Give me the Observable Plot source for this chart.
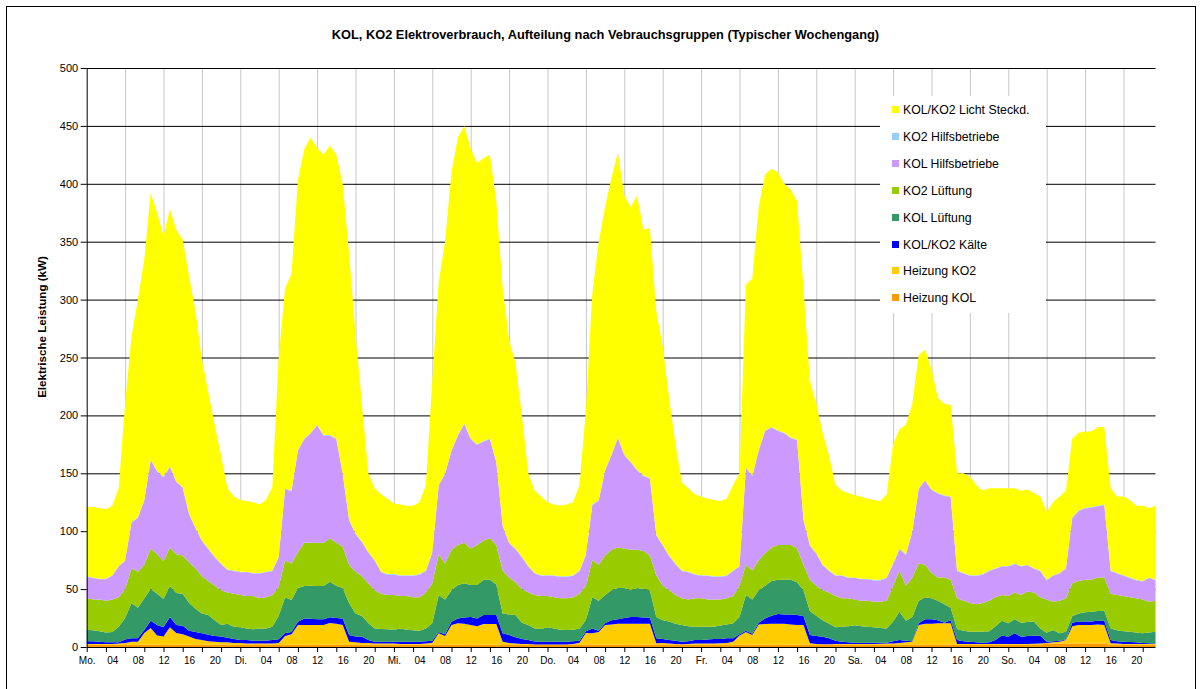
<!DOCTYPE html>
<html>
<head>
<meta charset="utf-8">
<script src="https://cdn.jsdelivr.net/npm/d3@7"></script>
<script src="https://cdn.jsdelivr.net/npm/@observablehq/plot@0.6"></script>
<style>
  html, body { margin: 0; padding: 0; background: #fff; }
  #wrap { position: relative; width: 1204px; height: 689px; overflow: hidden; font-family: "Liberation Sans", Arial, sans-serif; }
  #frame { position: absolute; left: 6px; top: 6px; width: 1190px; height: 700px; border: 1px solid #000; box-sizing: border-box; }
  #chart { position: absolute; left: 0; top: 0; }
  #title { position: absolute; left: 0; width: 1211px; top: 27px; text-align: center; font-weight: bold; font-size: 12.8px; color: #000; }
  #ylabel { position: absolute; left: 41px; top: 327px; transform: translate(-50%, -50%) rotate(-90deg); white-space: nowrap; font-weight: bold; font-size: 11.6px; color: #000; }
  #legend { position: absolute; left: 880px; top: 96px; width: 166px; height: 217px; background: #fff; }
  .li { position: absolute; left: 12px; height: 14px; font-size: 12.3px; line-height: 14px; color: #000; white-space: nowrap; }
  .sw { display: inline-block; width: 7px; height: 7px; margin-right: 4px; vertical-align: 1px; }
</style>
</head>
<body>
<div id="wrap">
  <div id="frame"></div>
  <div id="chart"></div>
  <div id="title">KOL, KO2 Elektroverbrauch, Aufteilung nach Vebrauchsgruppen (Typischer Wochengang)</div>
  <div id="ylabel">Elektrische Leistung (kW)</div>
  <div id="legend"></div>
</div>
<script>
// Tick labels
const dayLabels = ["Mo.", "Di.", "Mi.", "Do.", "Fr.", "Sa.", "So."];
const hourLabels = ["04", "08", "12", "16", "20"];
const yTicks = [0, 50, 100, 150, 200, 250, 300, 350, 400, 450, 500];

// Series names (stack order bottom -> top) and colours
const seriesNames = ["Heizung KOL", "Heizung KO2", "KOL/KO2 Kälte", "KOL Lüftung", "KO2 Lüftung", "KOL Hilfsbetriebe", "KO2 Hilfsbetriebe", "KOL/KO2 Licht Steckd."];
const seriesColors = ["#FF9900", "#FFCC00", "#0000FF", "#339966", "#99CC00", "#CC99FF", "#99CCFF", "#FFFF00"];

// Hourly values (kW), Monday 00h .. Sunday 23h
const heizungKOL = [
  2,2,2,2,2,2,2,2,2,2,2,2,2,2,2,2,2,2,2,2,2,2,2,2,
  2,2,2,2,2,2,2,2,2,2,2,2,2,2,2,2,2,2,2,2,2,2,2,2,
  2,2,2,2,2,2,2,2,2,2,2,2,2,2,2,2,2,2,2,2,2,2,2,2,
  2,2,2,2,2,2,2,2,2,2,2,2,2,2,2,2,2,2,2,2,2,2,2,2,
  2,2,2,2,2,2,2,2,2,2,2,2,2,2,2,2,2,2,2,2,2,2,2,2,
  2,2,2,2,2,2,2,2,2,2,2,2,2,2,2,2,2,2,2,2,2,2,2,2,
  2,2,2,2,2,2,3,3,3,3,3,3,3,3,3,3,2,2,2,2,2,2,2,2
];
const heizungKO2 = [
  .5,.5,.5,.5,.5,1,1.5,2.5,2.5,10,14.4,8,7,15,10,9,7,5,4,3,2.5,2,2,1.5,
  1.5,1,1,1,1,1,1.5,7.5,9,17,17,17,17,17,18.7,18,17,2.6,2,1.5,1.4,1,1,1,
  1,.5,.5,.5,.5,1,1.7,9.8,7.5,17,18.5,18,17,16,17.9,17.9,17.9,2.6,1.5,1,.5,.5,.2,.2,
  .2,.2,.2,.2,.5,1.7,10,9.8,11,17,17.5,18,18,18,18,18,18,1.2,1.5,1,.5,.4,.5,1,
  1,1,1,1.2,1.5,2.6,8,11,8.4,17.5,17.9,18,18,18,17.5,17,17,1.2,.5,.4,.4,.5,.5,.6,
  .6,.6,.6,.6,.8,1,1,1.5,2,2.6,17,18,18,18.5,18.5,18.5,.6,.5,.5,.5,.5,.5,.5,.5,
  .5,.5,.5,.5,.8,1,.5,1,1.6,3,15,16,16,16,16.5,16,1.2,1,.5,.5,.5,.5,.5,.5
];
const kaelte = [
  2.5,2.5,2,1.5,1.5,1,3,3,3,2.7,6.3,9,8,9,7,7.4,5,6,5.8,5.5,5,5,4,3.5,
  2.5,3,2.5,2.4,2.5,3,3.1,2.5,2,2.8,5.7,5.5,5,5,4.9,5,5.7,5.8,5,5.4,2.6,1.6,1.6,1.5,
  1.6,2.1,2,2,2,2,1.7,1.2,1.5,2.8,4.2,5.5,7,6.7,7.7,7.7,7.7,7.2,6.9,5.5,4.5,3.5,2.6,2.4,
  2.4,2.4,2.4,2.4,2.5,1.7,1.5,4.2,1,1.5,3.5,4,5,6,6,5.5,5.5,4.3,3.5,3,2.9,2.1,2.5,3,
  3,3.5,4,3.8,4,2.9,1,1,1,1.5,4.8,7,8.5,8,8.5,8.6,7.8,7.2,7,6.5,5.1,2.9,2,1.4,
  1.1,1.1,1.1,1.1,.9,.7,2,2.5,1.5,.4,1.5,4,4,2.5,.5,2.5,3.4,2.5,2.1,1.5,1.2,1.5,3.5,7.5,
  6.4,9.3,6.4,7,7,6.8,1,1,.9,.5,3,3,3,3,3.2,3.7,2.8,2,2.1,1.8,1.5,1,.7,.5
];
const kolLueftung = [
  10,9.5,9,8.5,9,13.5,18.5,30.5,26.5,27.3,27.3,27,24.5,26.7,27.6,27.6,24,20,17.2,17.1,13.5,10,12,10.5,
  11,10,9.8,10.6,10.5,11.5,20.4,31,27.6,29.2,28,28.5,28.7,28.7,30.8,28,26.3,27.6,20,17.9,14.7,11.4,10.9,10.8,
  10.4,11.4,10.5,10,9.5,11,15.1,32,30,27.2,28.8,29.5,27.5,28.8,30.4,30.4,26.4,17.2,17.6,19.1,14,13,11.2,10.9,
  12.4,11.4,10.4,10.1,10,10.6,9.8,27,26,24.5,26,27,26,23,25,24.5,23.5,18.5,16,16,14.6,14.5,13,11.5,
  11.5,11,10.5,11.5,12,13,15,31,29.6,28,28.3,30,29.5,30,30,28.4,22.2,20.6,17.5,14.1,12.5,11.6,13,14,
  15,14.3,13.8,13.3,12.8,12.3,17,24.5,17.2,21,19.5,19,18,17,16,11,9.5,9,8.6,9.2,9.5,9.5,12,12.7,
  11.6,12.2,12.1,12,12.2,6.2,7.9,9.7,6.3,6.7,5.8,7,8,8.5,8.3,8.7,10,9.5,8.9,8.9,8.5,8.3,9.3,10.2
];
const ko2Lueftung = [
  27,26.5,27.5,27.5,28,25.5,25,30,31,29,35,34,32.5,33.3,33.4,33,35,35,32,29.4,30,30,27,28.5,
  28,28,28.7,26,27,27.5,25,32,31.4,31,37.3,37,37.3,37.3,37.6,37,35.6,33,36,34.2,34.3,33,30.5,29.7,
  30,28,29,28.5,29,31,34.5,35,31,35,34.5,35,31.5,34.5,34,36,34,37,32,28.4,29,28,29,28.5,
  27,27,27,27.3,28,30,29.7,32,31,34,35,35,34,35,33,33,30,36,30,27,25,23,23,24.5,
  24.5,23.5,23.5,22.5,22.5,23.5,27,26,25,26,28,29,30,30,30,29,22,27,26,26,27,27,24.5,24,
  22.3,22,22.5,22,22.5,24,31,35.5,30.3,34,32,28,22,20,23,24,26.5,26,24.8,23.8,24.8,26.5,25,22.3,
  23.5,23,24,26.5,25,27,28.6,24.3,28.2,28.8,28.2,28,28,27.5,29,28.6,30,30.5,30.5,29.8,29.5,29.2,26.5,26.8
];
const kolHilfsbetriebe = [
  18.5,18.5,17.5,18.5,20.5,26.5,24.5,39.5,46.5,55.5,76.5,71.5,72.5,69.5,62.5,58.5,41.5,34.5,30.5,27.5,24.5,22.5,19.5,19.5,
  19.5,20.5,19.5,21.5,21.5,20.5,25.5,61.5,62.5,87.5,89.5,94.5,101.5,92.5,88.5,89.5,62.9,38.5,32.5,29.5,26.5,25.5,18.5,17.5,
  17.5,17.5,17.5,18.5,19.5,18.5,26.5,59.5,77.5,85.5,94.5,102.5,94.5,86.5,85.5,85.5,71.5,38.5,29.5,28.5,27.5,22.5,18.5,17.5,
  17.5,18.5,18.5,18.5,18.5,19.5,26.5,47.5,55.5,73.5,81.5,94.5,80.5,75.5,68.5,64.5,66.5,34.5,34.5,29.5,26.5,23.5,23.5,20.5,
  19.5,20.5,19.5,19.5,19.5,21.5,16.5,83.5,81.5,94.5,105.5,103.5,98.5,96.5,92.5,93.5,38.5,29.5,27.5,21.5,18.5,17.5,19.5,17.5,
  18.5,18.5,18.5,18.5,18.5,19.5,18.5,18.5,26.5,39.5,64.5,72.5,71.5,72.5,70.5,71.5,23.5,23.5,23.5,24.5,24.5,25.5,24.5,24.5,
  25.5,24.5,24.5,22.5,20.5,22.5,16.5,22.5,23.5,25.5,56.5,60.5,61.5,62.5,61.5,62.5,19.5,18.5,17.5,16.5,15.5,15.5,20.5,17.5
];
const ko2Hilfsbetriebe = [
  .5,.5,.5,.5,.5,.5,.5,.5,.5,.5,.5,.5,.5,.5,.5,.5,.5,.5,.5,.5,.5,.5,.5,.5,
  .5,.5,.5,.5,.5,.5,.5,.5,.5,.5,.5,.5,.5,.5,.5,.5,.5,.5,.5,.5,.5,.5,.5,.5,
  .5,.5,.5,.5,.5,.5,.5,.5,.5,.5,.5,.5,.5,.5,.5,.5,.5,.5,.5,.5,.5,.5,.5,.5,
  .5,.5,.5,.5,.5,.5,.5,.5,.5,.5,.5,.5,.5,.5,.5,.5,.5,.5,.5,.5,.5,.5,.5,.5,
  .5,.5,.5,.5,.5,.5,.5,.5,.5,.5,.5,.5,.5,.5,.5,.5,.5,.5,.5,.5,.5,.5,.5,.5,
  .5,.5,.5,.5,.5,.5,.5,.5,.5,.5,.5,.5,.5,.5,.5,.5,.5,.5,.5,.5,.5,.5,.5,.5,
  .5,.5,.5,.5,.5,.5,.5,.5,.5,.5,.5,.5,.5,.5,.5,.5,.5,.5,.5,.5,.5,.5,.5,.5
];
const lichtSteckdosen = [
  60,61,61,60,60,67,135,160,188,208,230,223,208,222,217,214,205,187,156,135,114,93,70,64,
  62,61,61,59,62,72,172,173,187,233,250,255,239,242,250,245,250,230,172,119,68,62,67,65,
  61,61,60,60,62,74,148,175,200,240,257,257,250,243,244,245,225,205,175,160,122,80,71,68,
  63,61,61,62,63,74,125,182,223,227,239,246,224,220,237,212,216,193,172,136,103,76,72,69,
  68,66,66,65,66,74,80,158,170,210,221,223,223,215,214,206,200,142,129,114,99,78,73,73,
  71,71,69,69,68,72,103,103,112,110,115,113,104,82,79,79,84,86,85,78,72,71,69,67,
  67,65,65,65,65,64,59,63,66,67,68,67,66,65,68,67,71,66,68,67,64,65,60,64
];

const seriesValues = [heizungKOL, heizungKO2, kaelte, kolLueftung, ko2Lueftung, kolHilfsbetriebe, ko2Hilfsbetriebe, lichtSteckdosen];
const data = seriesNames.flatMap((name, k) => seriesValues[k].map((v, h) => ({h, v, s: name})));

const nHours = lichtSteckdosen.length;
const xTicks3 = d3.range(0, nHours, 3);
const xTicks4 = d3.range(0, nHours, 4);
const xGrid = d3.range(6, nHours, 6);
const xLabel = h => (h % 24 === 0 ? dayLabels[h / 24] : hourLabels[(h % 24) / 4 - 1]);

const chart = Plot.plot({
  width: 1204,
  height: 689,
  marginLeft: 86.7,
  marginRight: 48.5,
  marginTop: 68,
  marginBottom: 42,
  style: { fontFamily: "'Liberation Sans', Arial, sans-serif", fontSize: "11px", color: "#000", background: "transparent", overflow: "visible" },
  x: { domain: [0, nHours - 1] },
  y: { domain: [0, 500] },
  color: { domain: seriesNames, range: seriesColors },
  marks: [
    Plot.ruleX(xGrid, { stroke: "#c8c8c8", strokeWidth: 1 }),
    Plot.ruleY(yTicks.filter(v => v > 0), { stroke: "#000", strokeWidth: 1 }),
    Plot.areaY(data, { x: "h", y: "v", z: "s", fill: "s", curve: "linear" }),
    Plot.axisY({ ticks: yTicks, tickSize: 6, tickPadding: 3, label: null, fontSize: 11 }),
    Plot.axisX({ ticks: xTicks3, tickSize: 5, tickFormat: () => "", label: null }),
    Plot.axisX({ ticks: xTicks4, tickSize: 0, tickPadding: 9, tickFormat: xLabel, label: null, fontSize: 10 }),
    Plot.ruleX([0], { stroke: "#000", strokeWidth: 1 }),
    Plot.ruleY([0], { stroke: "#000", strokeWidth: 1 })
  ]
});
document.getElementById("chart").appendChild(chart);

// Legend (top entry = top of stack)
const legend = document.getElementById("legend");
seriesNames.slice().reverse().forEach((name, i) => {
  const color = seriesColors[seriesNames.indexOf(name)];
  const row = document.createElement("div");
  row.className = "li";
  row.style.top = (7 + i * 26.9) + "px";
  row.innerHTML = `<span class="sw" style="background:${color}"></span>${name}`;
  legend.appendChild(row);
});
</script>
</body>
</html>
